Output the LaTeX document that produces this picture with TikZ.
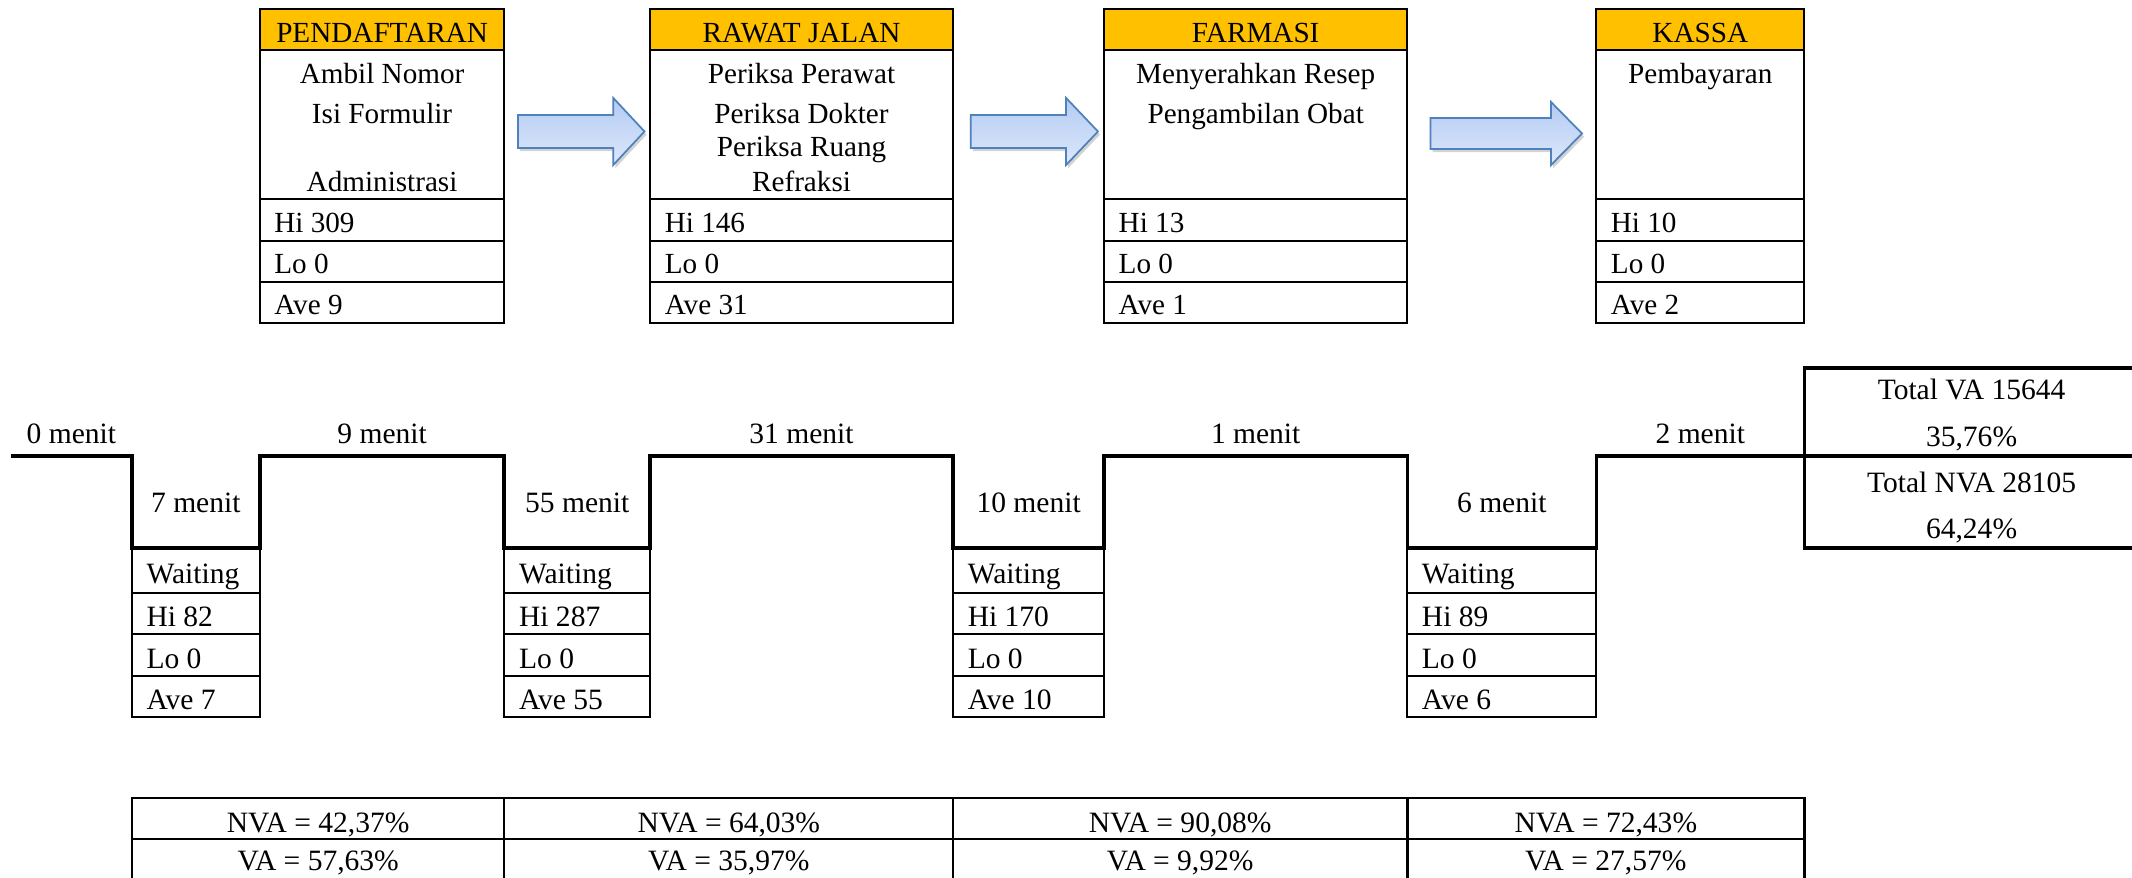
\documentclass[tikz,border=0pt]{standalone}
\usepackage{fontspec}
\setmainfont{Liberation Serif}
\usetikzlibrary{shadows}
\definecolor{hdr}{HTML}{FFC000}
\definecolor{arrline}{HTML}{4F81BD}
\definecolor{arrtop}{HTML}{B3CBF2}
\definecolor{arrbot}{HTML}{DDE8FB}
\begin{document}
\begin{tikzpicture}[x=0.027194cm, y=-0.027194cm,
  boxline/.style={draw=black, line width=1.3pt},
  thinline/.style={draw=black, line width=1.1pt},
  tline/.style={draw=black, line width=1.9pt, line join=miter},
  totline/.style={draw=black, line width=2pt, line join=miter},
  tabline/.style={draw=black, line width=1.4pt, line join=miter},
  toptxt/.style={font=\fontsize{16.6}{19}\selectfont, inner sep=0pt, anchor=base},
  topleft/.style={toptxt, anchor=base west},
  lowtxt/.style={font=\fontsize{16.8}{19}\selectfont, inner sep=0pt, anchor=base},
  lowleft/.style={lowtxt, anchor=base west},
  blockarrow/.style={draw=arrline, line width=1pt, line join=miter, top color=arrtop, bottom color=arrbot,
     drop shadow={shadow xshift=1.2pt, shadow yshift=-1.8pt, opacity=0.35}},
]
\useasboundingbox (0,0) rectangle (1568,645);

% ---------- top process boxes ----------
\foreach \xl/\xr in {191.2/370.7, 478/701, 812/1035, 1174/1327} {
  \draw[boxline, fill=hdr] (\xl,6.6) rectangle (\xr,36.8);
  \draw[boxline] (\xl,36.8) rectangle (\xr,237.5);
  \draw[boxline] (\xl,146.4) -- (\xr,146.4) (\xl,177.2) -- (\xr,177.2) (\xl,207.4) -- (\xr,207.4);
}
% headers
\node[toptxt] (pdh) at (281,31.4) {PENDAFTARAN};
\node[toptxt] (rjh) at (589.5,31.4) {RAWAT JALAN};
\node[toptxt] (fah) at (923.5,31.4) {FARMASI};
\node[toptxt] (kah) at (1250.5,31.4) {KASSA};
% body texts
\node[toptxt] (pd1) at (281,61.3) {Ambil Nomor};
\node[toptxt] (pd2) at (281,90.7) {Isi Formulir};
\node[toptxt] (pd3) at (281,141) {Administrasi};
\node[toptxt] (rj1) at (589.5,61.3) {Periksa Perawat};
\node[toptxt] (rj2) at (589.5,90.9) {Periksa Dokter};
\node[toptxt] (rj3) at (589.5,115.4) {Periksa Ruang};
\node[toptxt] (rj4) at (589.5,141) {Refraksi};
\node[toptxt] (fa1) at (923.5,61.3) {Menyerahkan Resep};
\node[toptxt] (fa2) at (923.5,90.7) {Pengambilan Obat};
\node[toptxt] (ka1) at (1250.5,61.3) {Pembayaran};
% Hi / Lo / Ave
\node[topleft] (pdhi) at (201.5,170.9) {Hi 309};
\node[topleft] (pdlo) at (201.5,201) {Lo 0};
\node[topleft] (pdav) at (201.5,231) {Ave 9};
\node[topleft] (rjhi) at (488.7,170.9) {Hi 146};
\node[topleft] (rjlo) at (488.7,201) {Lo 0};
\node[topleft] (rjav) at (488.7,231) {Ave 31};
\node[topleft] (fahi) at (822.5,170.9) {Hi 13};
\node[topleft] (falo) at (822.5,201) {Lo 0};
\node[topleft] (faav) at (822.5,231) {Ave 1};
\node[topleft] (kahi) at (1184.5,170.9) {Hi 10};
\node[topleft] (kalo) at (1184.5,201) {Lo 0};
\node[topleft] (kaav) at (1184.5,231) {Ave 2};

% ---------- block arrows ----------
\path[blockarrow] (381,84.6) -- (451,84.6) -- (451,72) -- (474,96.7) -- (451,121.4) -- (451,108.8) -- (381,108.8) -- cycle;
\path[blockarrow] (714,84.6) -- (784,84.6) -- (784,72) -- (807.5,96.7) -- (784,121.4) -- (784,108.8) -- (714,108.8) -- cycle;
\path[blockarrow] (1052,86.8) -- (1140.7,86.8) -- (1140.7,75) -- (1163.5,98.2) -- (1140.7,121.4) -- (1140.7,109.6) -- (1052,109.6) -- cycle;

% ---------- timeline ----------
\draw[tline] (8,335.4) -- (97,335.4) -- (97,403) -- (191.2,403) -- (191.2,335.4)
  -- (370.7,335.4) -- (370.7,403) -- (478,403) -- (478,335.4)
  -- (701,335.4) -- (701,403) -- (812,403) -- (812,335.4)
  -- (1035,335.4) -- (1035,403) -- (1174,403) -- (1174,335.4) -- (1575,335.4);

\node[lowtxt] (t0) at (52.5,326) {0 menit};
\node[lowtxt] (t1) at (281,326) {9 menit};
\node[lowtxt] (t2) at (589.5,326) {31 menit};
\node[lowtxt] (t3) at (923.5,326) {1 menit};
\node[lowtxt] (t4) at (1250.5,326) {2 menit};
\node[lowtxt] (w1) at (144,377) {7 menit};
\node[lowtxt] (w2) at (424.5,377) {55 menit};
\node[lowtxt] (w3) at (756.5,377) {10 menit};
\node[lowtxt] (w4) at (1104.5,377) {6 menit};

% waiting boxes
\foreach \xl/\xr in {97/191.2, 370.7/478, 701/812, 1035/1174} {
  \draw[thinline] (\xl,403) rectangle (\xr,527);
  \draw[thinline] (\xl,435.8) -- (\xr,435.8) (\xl,466.4) -- (\xr,466.4) (\xl,497) -- (\xr,497);
}
\node[lowleft] (wa1) at (107.5,429) {Waiting};
\node[lowleft] (wh1) at (107.5,461) {Hi 82};
\node[lowleft] (wl1) at (107.5,491.3) {Lo 0};
\node[lowleft] (wv1) at (107.5,521.5) {Ave 7};
\node[lowleft] (wa2) at (381.5,429) {Waiting};
\node[lowleft] (wh2) at (381.5,461) {Hi 287};
\node[lowleft] (wl2) at (381.5,491.3) {Lo 0};
\node[lowleft] (wv2) at (381.5,521.5) {Ave 55};
\node[lowleft] (wa3) at (711.5,429) {Waiting};
\node[lowleft] (wh3) at (711.5,461) {Hi 170};
\node[lowleft] (wl3) at (711.5,491.3) {Lo 0};
\node[lowleft] (wv3) at (711.5,521.5) {Ave 10};
\node[lowleft] (wa4) at (1045.5,429) {Waiting};
\node[lowleft] (wh4) at (1045.5,461) {Hi 89};
\node[lowleft] (wl4) at (1045.5,491.3) {Lo 0};
\node[lowleft] (wv4) at (1045.5,521.5) {Ave 6};

% ---------- totals ----------
\draw[totline] (1575,270.8) -- (1327,270.8) -- (1327,403) -- (1575,403);
\node[lowtxt] (tva) at (1450,294) {Total VA 15644};
\node[lowtxt] (tvap) at (1450,328.5) {35,76\%};
\node[lowtxt] (tnva) at (1450,362.3) {Total NVA 28105};
\node[lowtxt] (tnvap) at (1450,395.8) {64,24\%};

% ---------- bottom table ----------
\draw[tabline] (97,660) -- (97,587) -- (1327,587) -- (1327,660);
\draw[tabline] (370.7,587) -- (370.7,660) (701,587) -- (701,660) (1035,587) -- (1035,660);
\draw[thinline] (97,617) -- (1327,617);
\node[lowtxt] (n1) at (234,612) {NVA = 42,37\%};
\node[lowtxt] (n2) at (536,612) {NVA = 64,03\%};
\node[lowtxt] (n3) at (868,612) {NVA = 90,08\%};
\node[lowtxt] (n4) at (1181,612) {NVA = 72,43\%};
\node[lowtxt] (v1) at (234,640.5) {VA = 57,63\%};
\node[lowtxt] (v2) at (536,640.5) {VA = 35,97\%};
\node[lowtxt] (v3) at (868,640.5) {VA = 9,92\%};
\node[lowtxt] (v4) at (1181,640.5) {VA = 27,57\%};
\end{tikzpicture}
\end{document}
